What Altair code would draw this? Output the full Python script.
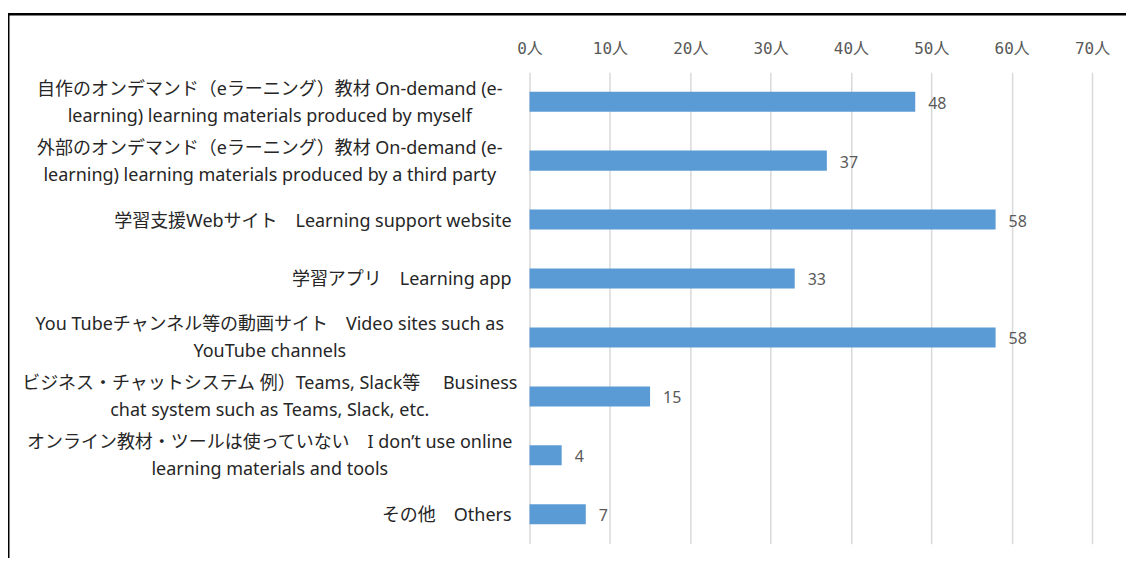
import altair as alt
import pandas as pd

categories = [
    "自作のオンデマンド（eラーニング）教材 On-demand (e-\nlearning) learning materials produced by myself",
    "外部のオンデマンド（eラーニング）教材 On-demand (e-\nlearning) learning materials produced by a third party",
    "学習支援Webサイト\u3000Learning support website",
    "学習アプリ\u3000Learning app",
    "You Tubeチャンネル等の動画サイト\u3000Video sites such as\nYouTube channels",
    "ビジネス・チャットシステム 例）Teams, Slack等\u3000 Business\nchat system such as Teams, Slack, etc.",
    "オンライン教材・ツールは使っていない\u3000I don’t use online\nlearning materials and tools",
    "その他\u3000Others",
]
values = [48, 37, 58, 33, 58, 15, 4, 7]
x_ticks = [0, 10, 20, 30, 40, 50, 60, 70]

df = pd.DataFrame({"cat": categories, "n": values})

FONT = "Noto Sans, Noto Sans CJK JP"
TICK_FONT = "DejaVu Sans Mono, Noto Sans CJK JP"

y_enc = alt.Y(
    "cat:N",
    sort=None,
    scale=alt.Scale(paddingInner=0.66, paddingOuter=0.33),
    axis=None,
)

x_enc = alt.X(
    "n:Q",
    scale=alt.Scale(domain=[0, 70], nice=False),
    axis=alt.Axis(
        orient="top",
        values=x_ticks,
        title=None,
        ticks=False,
        domain=False,
        labelFont=TICK_FONT,
        labelFontSize=16,
        labelColor="#595959",
        labelPadding=16,
        labelFlush=False,
        labelExpr="datum.value + '人'",
        grid=True,
        gridColor="#D9D9D9",
        gridWidth=1.5,
    ),
)

base = alt.Chart(df)

bars = base.mark_bar(color="#5B9BD5").encode(x=x_enc, y=y_enc)

texts = base.mark_text(
    align="left", baseline="middle", dx=13, dy=2, font=FONT, fontSize=16, color="#595959"
).encode(x=x_enc, y=y_enc, text="n:Q")

single_labels = (
    base.transform_filter("indexof(datum.cat, '\\n') < 0")
    .mark_text(align="right", baseline="middle", dy=2, font=FONT, fontSize=18, color="#262626")
    .encode(x=alt.value(-18), y=y_enc, text="cat:N")
)

multi_labels = (
    base.transform_filter("indexof(datum.cat, '\\n') >= 0")
    .mark_text(
        align="center",
        baseline="middle",
        dy=-12,
        lineBreak="\n",
        lineHeight=27,
        font=FONT,
        fontSize=18,
        color="#262626",
    )
    .encode(x=alt.value(-260), y=y_enc, text="cat:N")
)

frame_src = alt.Data(values=[{"k": 1}])
top_line = alt.Chart(frame_src).mark_rule(color="#000000", strokeWidth=2.5).encode(
    x=alt.value(-522), x2=alt.value(620), y=alt.value(-58)
)
left_line = alt.Chart(frame_src).mark_rule(color="#000000", strokeWidth=2).encode(
    x=alt.value(-521.5), y=alt.value(-59), y2=alt.value(500)
)

chart = (
    alt.layer(bars, texts, single_labels, multi_labels, top_line, left_line)
    .properties(
        width=563,
        height=472,
        autosize=alt.AutoSizeParams(type="none"),
        padding={"left": 522, "top": 64, "right": 34, "bottom": 14},
    )
    .configure(
        background="white",
        view=alt.ViewConfig(stroke="transparent", strokeWidth=0),
        axis=alt.AxisConfig(domain=False),
    )
)

chart.save("out.html", embed_options={"renderer": "svg", "actions": False})
